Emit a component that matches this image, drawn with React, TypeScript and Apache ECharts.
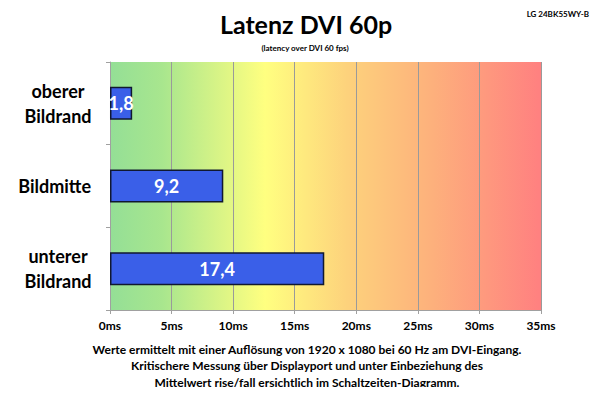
import React, { useEffect, useRef } from "react";
import * as echarts from "echarts";

const categories = ["oberer\nBildrand", "Bildmitte", "unterer\nBildrand"];
const latencyMs = [1.8, 9.2, 17.4];
const axisMin = 0;
const axisMax = 35;
const axisStep = 5;
const titleText = "Latenz DVI 60p";
const subtitleText = "(latency over DVI 60 fps)";
const deviceName = "LG 24BK55WY-B";
const footnoteLines = [
  "Werte ermittelt mit einer Auflösung von 1920 x 1080 bei 60 Hz am DVI-Eingang.",
  "Kritischere Messung über Displayport und unter Einbeziehung des",
  "Mittelwert rise/fall ersichtlich im Schaltzeiten-Diagramm.",
];

const FONT = "Lato, 'Open Sans', sans-serif";

export default function App() {
  const ref = useRef<HTMLDivElement>(null);
  useEffect(() => {
    if (!ref.current) return;
    const chart = echarts.init(ref.current, null, { renderer: "svg" });
    const bg = new echarts.graphic.LinearGradient(0, 0, 1, 0, [
      { offset: 0, color: "#94df96" },
      { offset: 0.12, color: "#a8e68e" },
      { offset: 0.36, color: "#ffff80" },
      { offset: 0.55, color: "#fdd27c" },
      { offset: 0.75, color: "#fdb07c" },
      { offset: 1, color: "#ff8080" },
    ]);
    const labelStyle = {
      color: "#000",
      fontFamily: FONT,
      fontSize: 18,
      fontWeight: "bold",
      lineHeight: 25,
    };
    chart.setOption({
      animation: false,
      textStyle: { fontFamily: FONT },
      grid: {
        left: 110,
        right: 59,
        top: 62,
        bottom: 85,
        show: true,
        backgroundColor: bg,
        borderWidth: 0,
      },
      title: [
        {
          text: titleText,
          left: 301,
          top: 6,
          textAlign: "center",
          textStyle: { fontFamily: FONT, fontSize: 25, fontWeight: "bold", color: "#000" },
        },
        {
          text: subtitleText,
          left: 300,
          top: 39,
          textAlign: "center",
          textStyle: { fontFamily: FONT, fontSize: 8, fontWeight: "bold", color: "#000" },
        },
        {
          text: deviceName,
          right: 6,
          top: 5,
          textStyle: { fontFamily: FONT, fontSize: 8, fontWeight: "bold", color: "#000" },
        },
      ],
      xAxis: {
        type: "value",
        min: axisMin,
        max: axisMax,
        interval: axisStep,
        axisLine: { show: true, lineStyle: { color: "#a0a0a0", width: 1 } },
        axisTick: { show: true, length: 4, lineStyle: { color: "#a0a0a0" } },
        splitLine: { show: true, lineStyle: { color: "#9a9a9a", width: 1 } },
        axisLabel: {
          formatter: "{value}ms",
          color: "#000",
          fontFamily: FONT,
          fontSize: 12,
          fontWeight: "bold",
          margin: 9,
        },
      },
      yAxis: {
        type: "category",
        data: categories,
        inverse: true,
        axisLine: { show: true, lineStyle: { color: "#a0a0a0" } },
        axisTick: { show: true, length: 4, lineStyle: { color: "#a0a0a0" } },
        axisLabel: {
          ...labelStyle,
          align: "right",
          margin: 19,
          formatter: (v: string) =>
            v.includes("\n")
              ? v.split("\n").map((l) => `{m|${l}}`).join("\n")
              : `{s|${v}}`,
          rich: {
            m: { ...labelStyle, width: 66, align: "center" },
            s: { ...labelStyle },
          },
        },
      },
      series: [
        {
          type: "bar",
          data: latencyMs,
          barWidth: "40%",
          itemStyle: { color: "#3a5fe8", borderColor: "#101830", borderWidth: 1.5 },
          label: {
            show: true,
            position: "inside",
            formatter: (p: any) => String(p.value).replace(".", ","),
            color: "#fff",
            fontFamily: FONT,
            fontSize: 18,
            fontWeight: "bold",
          },
        },
      ],
      graphic: footnoteLines.map((line, i) => ({
        type: "text",
        x: 307,
        y: 349 + i * 16.5,
        style: {
          text: line,
          fill: "#000",
          font: `bold 12px ${FONT}`,
          textAlign: "center",
          textVerticalAlign: "middle",
        },
      })),
    });
    return () => chart.dispose();
  }, []);
  return <div ref={ref} style={{ width: 600, height: 395, margin: -8 }} />;
}
